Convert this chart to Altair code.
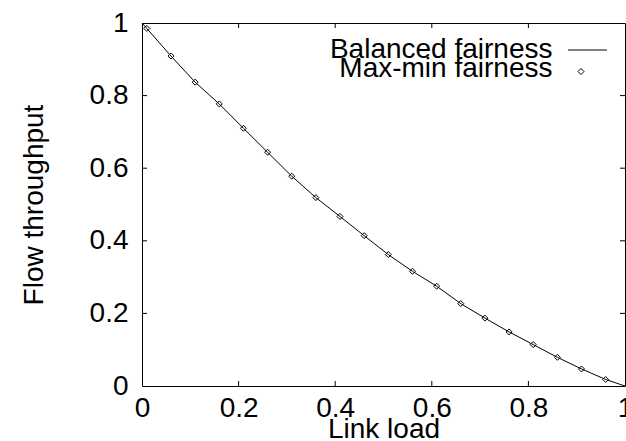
import altair as alt
import pandas as pd

# Data
load_pts = [0.01, 0.06, 0.11, 0.16, 0.21, 0.26, 0.31, 0.36, 0.41, 0.46,
            0.51, 0.56, 0.61, 0.66, 0.71, 0.76, 0.81, 0.86, 0.91, 0.96]
maxmin_vals = [0.985, 0.909, 0.837, 0.777, 0.710, 0.644, 0.578, 0.519, 0.467, 0.414,
               0.362, 0.316, 0.275, 0.227, 0.187, 0.149, 0.114, 0.079, 0.047, 0.018]
balanced_load = [0.0, 0.01, 0.06, 0.11, 0.16, 0.21, 0.26, 0.31, 0.36, 0.41, 0.46,
                 0.51, 0.56, 0.61, 0.66, 0.71, 0.76, 0.81, 0.86, 0.91, 0.96, 1.0]
balanced_vals = [1.0, 0.985, 0.909, 0.837, 0.777, 0.710, 0.644, 0.578, 0.519, 0.467, 0.414,
                 0.362, 0.316, 0.275, 0.227, 0.187, 0.149, 0.114, 0.079, 0.047, 0.018, 0.0]
tick_vals = [0.2, 0.4, 0.6, 0.8]
axis_ticks = [0, 0.2, 0.4, 0.6, 0.8, 1]
series_names = ["Balanced fairness", "Max-min fairness"]

W, H = 483, 363
FONT = "Liberation Sans"
FS = 28

line_df = pd.DataFrame({"load": balanced_load, "tput": balanced_vals})
pts_df = pd.DataFrame({"load": load_pts, "tput": maxmin_vals})
tick_df = pd.DataFrame({"load": tick_vals, "tput": tick_vals})

xscale = alt.Scale(domain=[0, 1], nice=False, zero=False)
yscale = alt.Scale(domain=[0, 1], nice=False, zero=False)

xaxis = alt.Axis(values=axis_ticks, format="~g", title="Link load", grid=False,
                 ticks=False, tickSize=0, domain=False, labelPadding=8,
                 labelFont=FONT, labelFontSize=FS, labelColor="black",
                 labelFlush=False, labelOverlap=False,
                 titleFont=FONT, titleFontSize=FS, titleFontWeight="normal",
                 titleColor="black", titleX=W / 2, titleY=51,
                 titleBaseline="alphabetic", titleAlign="center")
yaxis = alt.Axis(values=axis_ticks, format="~g", title="Flow throughput", grid=False,
                 ticks=False, tickSize=0, domain=False, labelPadding=14,
                 labelFont=FONT, labelFontSize=FS, labelColor="black",
                 labelFlush=False, labelOverlap=False,
                 titleFont=FONT, titleFontSize=FS, titleFontWeight="normal",
                 titleColor="black", titleX=-100, titleY=H / 2, titleAngle=270,
                 titleBaseline="alphabetic", titleAlign="center")

line = alt.Chart(line_df).mark_line(color="black", strokeWidth=1).encode(
    x=alt.X("load:Q", scale=xscale, axis=xaxis),
    y=alt.Y("tput:Q", scale=yscale, axis=yaxis),
)

points = alt.Chart(pts_df).mark_point(shape="diamond", filled=False, size=36,
                                      color="black", strokeWidth=1, opacity=1).encode(
    x=alt.X("load:Q"),
    y=alt.Y("tput:Q"),
)

tk = dict(color="black", strokeWidth=1)
left_ticks = alt.Chart(tick_df).mark_rule(**tk).encode(
    y=alt.Y("tput:Q"), x=alt.value(0), x2=alt.value(5))
right_ticks = alt.Chart(tick_df).mark_rule(**tk).encode(
    y=alt.Y("tput:Q"), x=alt.value(W - 5), x2=alt.value(W))
bottom_ticks = alt.Chart(tick_df).mark_rule(**tk).encode(
    x=alt.X("load:Q"), y=alt.value(H - 5), y2=alt.value(H))
top_ticks = alt.Chart(tick_df).mark_rule(**tk).encode(
    x=alt.X("load:Q"), y=alt.value(0), y2=alt.value(5))

# Legend (gnuplot-style key: label on the left, sample on the right)
leg_df = pd.DataFrame({"name": series_names, "row": [0, 1]})
leg_text1 = alt.Chart(leg_df).transform_filter("datum.row == 0").mark_text(
    font=FONT, fontSize=FS, align="right", baseline="alphabetic", color="black").encode(
    text="name:N", x=alt.value(410.5), y=alt.value(34.5))
leg_text2 = alt.Chart(leg_df).transform_filter("datum.row == 1").mark_text(
    font=FONT, fontSize=FS, align="right", baseline="alphabetic", color="black").encode(
    text="name:N", x=alt.value(410.5), y=alt.value(54))
leg_line = alt.Chart(leg_df).transform_filter("datum.row == 0").mark_rule(
    color="black", strokeWidth=1).encode(
    x=alt.value(426), x2=alt.value(465), y=alt.value(27))
leg_pt = alt.Chart(leg_df).transform_filter("datum.row == 1").mark_point(
    shape="diamond", filled=False, size=36, color="black", strokeWidth=1, opacity=1).encode(
    x=alt.value(439), y=alt.value(48.5))

chart = alt.layer(
    line, points, left_ticks, right_ticks, bottom_ticks, top_ticks,
    leg_text1, leg_text2, leg_line, leg_pt
).properties(
    width=W, height=H,
    autosize=alt.AutoSizeParams(type="none"),
    padding={"left": 142, "top": 23, "right": 1, "bottom": 55},
    background="white",
).configure_view(stroke="black", strokeWidth=1)

chart.save("out.html", embed_options={"renderer": "svg", "actions": False})
